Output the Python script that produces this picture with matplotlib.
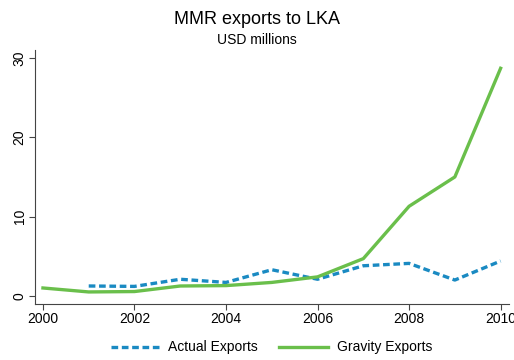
import numpy as np
import matplotlib
matplotlib.use('Agg')
import matplotlib.pyplot as plt

plt.rcParams['font.family'] = ['Liberation Sans', 'DejaVu Sans']

years = [2000, 2001, 2002, 2003, 2004, 2005, 2006, 2007, 2008, 2009, 2010]
actual_years = [2001, 2002, 2003, 2004, 2005, 2006, 2007, 2008, 2009, 2010]
actual = [1.25, 1.2, 2.1, 1.7, 3.3, 2.1, 3.8, 4.1, 2.0, 4.4]
gravity = [1.0, 0.5, 0.55, 1.25, 1.3, 1.7, 2.4, 4.7, 11.3, 15.0, 28.7]
xticks = [2000, 2002, 2004, 2006, 2008, 2010]
yticks = [0, 10, 20, 30]

fig = plt.figure(figsize=(5.14, 3.6), dpi=100)
ax = fig.add_axes([0.068, 0.156, 0.922, 0.705])

ax.plot(actual_years, actual, color='#1a8ac2', linewidth=2.4, linestyle=(0, (2.0, 1.1)),
        label='Actual Exports')
ax.plot(years, gravity, color='#6abf4b', linewidth=2.4, label='Gravity Exports')

ax.set_xlim(1999.825, 2010.18)
ax.set_ylim(-1.0, 31.0)
ax.set_xticks(xticks)
ax.set_yticks(yticks)
ax.tick_params(axis='both', labelsize=10, length=4, width=0.8, color='#444444', pad=2)
for lab in ax.get_yticklabels():
    lab.set_rotation(90)
    lab.set_va('center')
for s in ['top', 'right']:
    ax.spines[s].set_visible(False)
for s in ['left', 'bottom']:
    ax.spines[s].set_color('#444444')
    ax.spines[s].set_linewidth(0.8)

fig.text(0.5, 0.945, 'MMR exports to LKA', ha='center', va='center', fontsize=13)
fig.text(0.5, 0.888, 'USD millions', ha='center', va='center', fontsize=10)

fig.legend(loc='center', bbox_to_anchor=(0.528, 0.035), ncol=2, frameon=False,
           fontsize=10, handlelength=3.5, columnspacing=1.5, handletextpad=0.65)

fig.savefig('out.png', dpi=100)
